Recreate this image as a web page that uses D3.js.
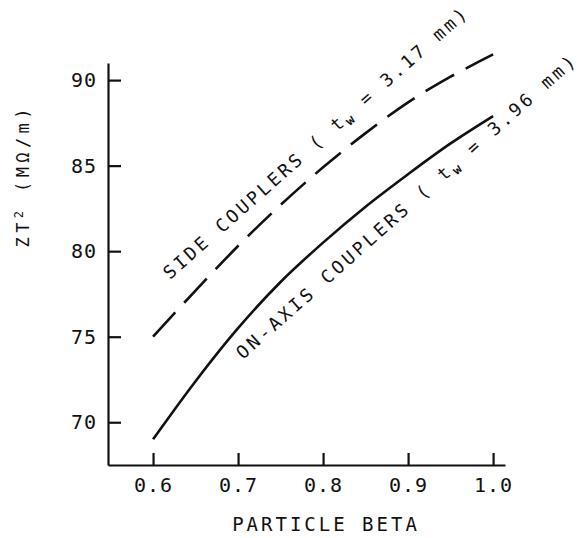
<!DOCTYPE html>
<html>
<head>
<meta charset="utf-8">
<script src="https://cdn.jsdelivr.net/npm/d3@7"></script>
<style>
body { margin: 0; background: #fff; }
svg text { font-family: "DejaVu Sans Mono", monospace; fill: #111; }
.axis path, .axis line { stroke: #111; stroke-width: 2.2px; }
.curve { fill: none; stroke: #111; stroke-width: 2.6px; }
</style>
</head>
<body>
<svg id="chart" width="579" height="538"></svg>
<script>
// particle beta values
var beta = [0.6, 0.65, 0.7, 0.75, 0.8, 0.85, 0.9, 0.95, 1.0];
// ZT^2 (MOhm/m)
var sideCouplers = [75.0, 77.7, 80.3, 82.7, 84.9, 86.9, 88.7, 90.2, 91.5];
var onAxisCouplers = [69.0, 72.4, 75.5, 78.2, 80.5, 82.6, 84.5, 86.3, 87.9];
var xTicks = [0.6, 0.7, 0.8, 0.9, 1.0];
var yTicks = [70, 75, 80, 85, 90];

var svg = d3.select("#chart");

var x = d3.scaleLinear().domain([0.547, 1.014]).range([108, 505]);
var y = d3.scaleLinear().domain([67.5, 91.0]).range([465, 63]);

//x axis, ticks pointing inward
var xg = svg.append("g")
    .attr("class", "axis")
    .attr("transform", "translate(0,465)")
    .call(d3.axisBottom(x)
        .tickValues(xTicks)
        .tickSizeInner(-12)
        .tickSizeOuter(0)
        .tickPadding(13)
        .tickFormat(d3.format(".1f")));
xg.selectAll("text")
    .style("font-size", "20px")
    .style("letter-spacing", "1px");

//y axis
var yg = svg.append("g")
    .attr("class", "axis")
    .attr("transform", "translate(108,0)")
    .call(d3.axisLeft(y)
        .tickValues(yTicks)
        .tickSizeInner(-13)
        .tickSizeOuter(0)
        .tickPadding(11));
yg.selectAll("text")
    .style("font-size", "20px")
    .style("letter-spacing", "1px");
svg.selectAll(".axis text").attr("fill", "#111");

//axis titles
svg.append("text")
    .attr("x", 326)
    .attr("y", 531)
    .attr("text-anchor", "middle")
    .style("font-size", "19px")
    .style("letter-spacing", "3px")
    .text("PARTICLE BETA");

var yt = svg.append("text")
    .attr("transform", "translate(29,178) rotate(-90)")
    .attr("text-anchor", "middle")
    .attr("textLength", 139)
    .attr("lengthAdjust", "spacing")
    .style("font-size", "17px");
yt.append("tspan").text("ZT");
yt.append("tspan").attr("dy", -6).style("font-size", "12px").text("2");
yt.append("tspan").attr("dy", 6).text(" (M\u03A9/m)");

//curves
var line = d3.line()
    .x(function(d) { return x(d[0]); })
    .y(function(d) { return y(d[1]); })
    .curve(d3.curveCatmullRom.alpha(0.5));

svg.append("path")
    .datum(beta.map(function(b, i) { return [b, sideCouplers[i]]; }))
    .attr("class", "curve")
    .attr("stroke-dasharray", "33,13")
    .attr("d", line);

svg.append("path")
    .datum(beta.map(function(b, i) { return [b, onAxisCouplers[i]]; }))
    .attr("class", "curve")
    .attr("d", line);

//slanted labels along the curves
function curveLabel(px, py, angle, len, before, after) {
    var t = svg.append("text")
        .attr("transform", "translate(" + px + "," + py + ") rotate(" + angle + ")")
        .attr("textLength", len)
        .attr("lengthAdjust", "spacing")
        .style("font-size", "18px");
    t.append("tspan").text(before);
    t.append("tspan").attr("dy", 4).style("font-size", "13px").style("font-weight", "bold").text("w");
    t.append("tspan").attr("dy", -4).text(after);
}

curveLabel(170, 280, -41.5, 398, "SIDE COUPLERS ( t", " = 3.17 mm)");
curveLabel(243, 360, -41.6, 446, "ON-AXIS COUPLERS ( t", " = 3.96 mm)");
</script>
</body>
</html>
